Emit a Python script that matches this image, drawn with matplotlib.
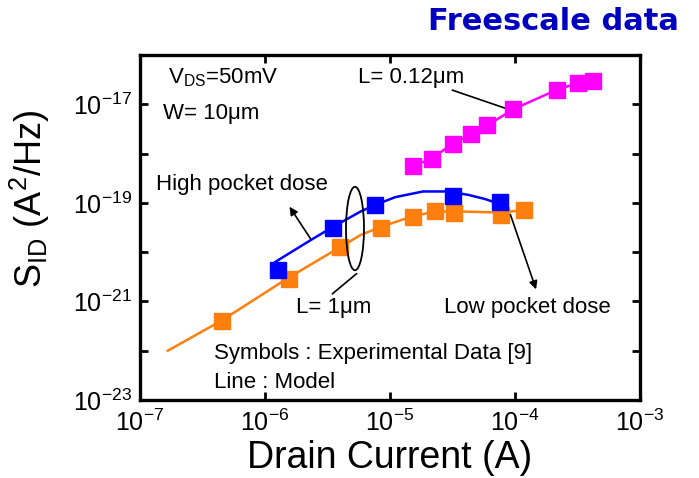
import matplotlib
matplotlib.use('Agg')
import matplotlib.pyplot as plt
from matplotlib.patches import Ellipse
from matplotlib.ticker import FixedLocator, NullLocator, NullFormatter
import numpy as np

plt.rcParams['font.family'] = ['Liberation Sans', 'DejaVu Sans']
plt.rcParams['mathtext.fontset'] = 'custom'
plt.rcParams['mathtext.rm'] = 'Liberation Sans'
plt.rcParams['mathtext.it'] = 'Liberation Sans'

# 数据 (log10 值, 从图上读取)
# L = 0.12um
mag_logI = [-4.819, -4.667, -4.500, -4.353, -4.222, -4.014, -3.667, -3.500, -3.375]
mag_logS = [-18.245, -18.109, -17.796, -17.612, -17.429, -17.102, -16.707, -16.571, -16.524]

# L = 1um, high pocket dose
high_logI = [-5.894, -5.453, -5.117, -4.500, -4.117]
high_logS = [-20.354, -19.517, -19.041, -18.857, -18.973]
high_model_logI = [-5.917, -5.625, -5.453, -5.236, -5.117, -4.958, -4.736, -4.542, -4.375, -4.236, -4.117]
high_model_logS = [-20.197, -19.741, -19.483, -19.177, -19.041, -18.884, -18.769, -18.769, -18.837, -18.925, -19.027]

# L = 1um, low pocket dose
low_logI = [-6.347, -5.811, -5.403, -5.069, -4.819, -4.639, -4.492, -4.111, -3.931]
low_logS = [-21.401, -20.544, -19.891, -19.517, -19.279, -19.156, -19.211, -19.245, -19.143]
low_model_logI = [-6.778, -6.347, -5.811, -5.403, -5.236, -5.069, -4.819, -4.639, -4.403, -4.125, -3.958]
low_model_logS = [-22.000, -21.388, -20.517, -19.905, -19.653, -19.483, -19.272, -19.177, -19.177, -19.197, -19.156]

def p10(v):
    return 10.0 ** np.array(v)

fig = plt.figure(figsize=(6.99, 4.78), dpi=100)
ax = fig.add_axes([140/699, 1-400/478, 500/699, 345/478])

ax.plot(p10(low_model_logI), p10(low_model_logS), color='#ff7f0e', lw=1.8, zorder=2)
ax.plot(p10(high_model_logI), p10(high_model_logS), color='#0000ff', lw=1.8, zorder=2)
ax.plot(p10(mag_logI), p10(mag_logS), color='#ff00ff', lw=1.8, zorder=2)

ax.plot(p10(low_logI), p10(low_logS), 's', color='#ff7f0e', ms=11, zorder=3)
ax.plot(p10(high_logI), p10(high_logS), 's', color='#0000ff', ms=11, zorder=3)
ax.plot(p10(mag_logI), p10(mag_logS), 's', color='#ff00ff', ms=11, zorder=3)

ax.set_xscale('log')
ax.set_yscale('log')
ax.set_xlim(1e-7, 1e-3)
ax.set_ylim(1e-23, 1e-16)

ax.xaxis.set_major_locator(FixedLocator([1e-7, 1e-6, 1e-5, 1e-4, 1e-3]))
ax.xaxis.set_minor_locator(NullLocator())
ax.yaxis.set_major_locator(FixedLocator([1e-23, 1e-21, 1e-19, 1e-17]))
ax.yaxis.set_minor_locator(FixedLocator([1e-22, 1e-20, 1e-18]))
ax.yaxis.set_minor_formatter(NullFormatter())
ax.set_xticklabels([r'$10^{-7}$', r'$10^{-6}$', r'$10^{-5}$', r'$10^{-4}$', r'$10^{-3}$'])
ax.set_yticklabels([r'$10^{-23}$', r'$10^{-21}$', r'$10^{-19}$', r'$10^{-17}$'])

ax.tick_params(which='both', direction='in', top=True, right=True, width=2, length=6, labelsize=18)
ax.tick_params(axis='x', pad=7)
ax.tick_params(axis='y', pad=6)
for s in ax.spines.values():
    s.set_linewidth(2.4)

ax.set_xlabel('Drain Current (A)', fontsize=27, labelpad=3)
ax.set_ylabel(r'S$_{\rm ID}$ (A$^{2}$/Hz)', fontsize=26)
ax.yaxis.set_label_coords(-0.176, 0.583)

fs = 16
tf = ax.transAxes
ax.text(0.056, 0.935, r'V$_{\rm DS}$=50mV', transform=tf, fontsize=fs, va='center')
ax.text(0.046, 0.829, 'W= 10\u03bcm', transform=tf, fontsize=fs, va='center')
ax.text(0.436, 0.935, 'L= 0.12\u03bcm', transform=tf, fontsize=fs, va='center')
ax.plot([0.625, 0.732], [0.898, 0.845], transform=tf, color='black', lw=1.2)

ax.text(0.031, 0.625, 'High pocket dose', transform=tf, fontsize=fs, va='center')
ax.annotate('', xy=(0.296, 0.567), xytext=(0.344, 0.461), xycoords=tf, textcoords=tf,
            arrowprops=dict(arrowstyle='-|>', color='black', lw=1.2, mutation_scale=12))

ax.add_patch(Ellipse((0.430, 0.497), 0.036, 0.242, transform=tf, fill=False,
                     edgecolor='black', lw=1.3, zorder=4))
ax.plot([0.385, 0.433], [0.308, 0.366], transform=tf, color='black', lw=1.2)
ax.text(0.313, 0.269, 'L= 1\u03bcm', transform=tf, fontsize=fs, va='center')

ax.text(0.608, 0.269, 'Low pocket dose', transform=tf, fontsize=fs, va='center')
ax.annotate('', xy=(0.794, 0.313), xytext=(0.739, 0.545), xycoords=tf, textcoords=tf,
            arrowprops=dict(arrowstyle='-|>', color='black', lw=1.2, mutation_scale=12))

ax.text(0.148, 0.134, 'Symbols : Experimental Data [9]', transform=tf, fontsize=fs, va='center')
ax.text(0.148, 0.051, 'Line : Model', transform=tf, fontsize=fs, va='center')

fig.text(679/699, 1-21/478, 'Freescale data', family='DejaVu Sans', fontweight='bold',
         fontsize=22, color='#0000c0', ha='right', va='center')

fig.savefig('out.png', dpi=100)
